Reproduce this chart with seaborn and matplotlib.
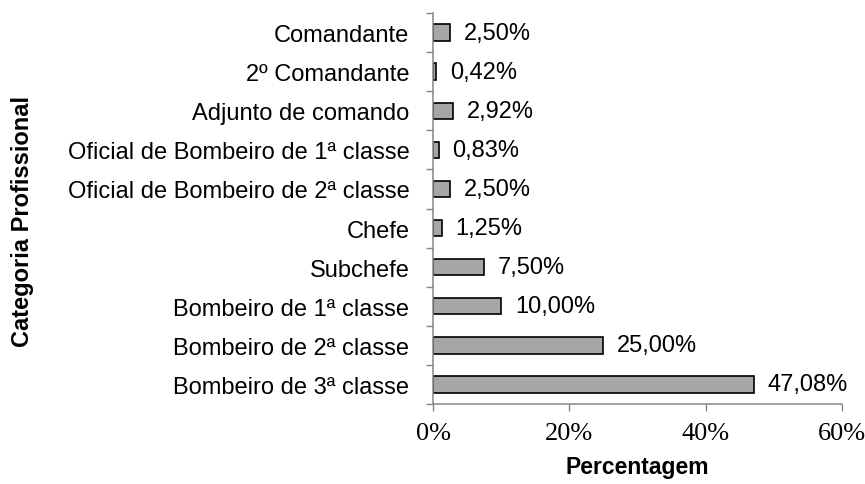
import numpy as np
import pandas as pd
import seaborn as sns
import matplotlib.pyplot as plt

categorias = ['Comandante', '2º Comandante', 'Adjunto de comando',
              'Oficial de Bombeiro de 1ª classe', 'Oficial de Bombeiro de 2ª classe',
              'Chefe', 'Subchefe', 'Bombeiro de 1ª classe',
              'Bombeiro de 2ª classe', 'Bombeiro de 3ª classe']
percentagens = [2.50, 0.42, 2.92, 0.83, 2.50, 1.25, 7.50, 10.00, 25.00, 47.08]
xticks = [0, 20, 40, 60]

df = pd.DataFrame({'Categoria': categorias, 'Percentagem': percentagens})

sns.set_style('white')
plt.rcParams['font.family'] = ['Liberation Sans', 'DejaVu Sans']
plt.rcParams['text.color'] = 'black'
plt.rcParams['axes.labelcolor'] = 'black'
plt.rcParams['xtick.color'] = 'black'
plt.rcParams['ytick.color'] = 'black'

fig = plt.figure(figsize=(8.65, 4.85), dpi=100)
ax = fig.add_axes([0.5006, 0.165, 0.4728, 0.806])

sns.barplot(data=df, x='Percentagem', y='Categoria', orient='h', color='#a6a6a6',
            saturation=1, edgecolor='black', linewidth=1.2, width=0.42, ax=ax)

# rótulos de valor com vírgula decimal
for i, v in enumerate(percentagens):
    ax.annotate(f'{v:.2f}%'.replace('.', ','), xy=(v, i), xytext=(10, 0),
                textcoords='offset points', va='center', ha='left',
                fontsize=17, color='black')

ax.set_xlim(0, 60)
ax.set_ylim(len(categorias) - 0.5, -0.5)
ax.set_xticks(xticks)
ax.set_xticklabels([f'{t}%' for t in xticks], family='Liberation Serif', fontsize=19)
ax.tick_params(axis='x', bottom=True, length=5, color='#868686', width=1, pad=8)
ax.tick_params(axis='y', which='major', left=True, length=0, labelsize=17, pad=17)
ax.set_yticks(np.arange(-0.5, len(categorias), 1), minor=True)
ax.tick_params(axis='y', which='minor', left=True, length=5, color='#868686', width=1,
               direction='out')

for s in ['top', 'right']:
    ax.spines[s].set_visible(False)
for s in ['left', 'bottom']:
    ax.spines[s].set_color('#868686')
    ax.spines[s].set_linewidth(1.1)

ax.set_xlabel('Percentagem', fontsize=16.5, fontweight='bold', labelpad=8)
ax.set_ylabel('Categoria Profissional', fontsize=17, fontweight='bold')
ax.yaxis.set_label_coords(-0.975, 0.47)

fig.savefig('out.png', dpi=100)
